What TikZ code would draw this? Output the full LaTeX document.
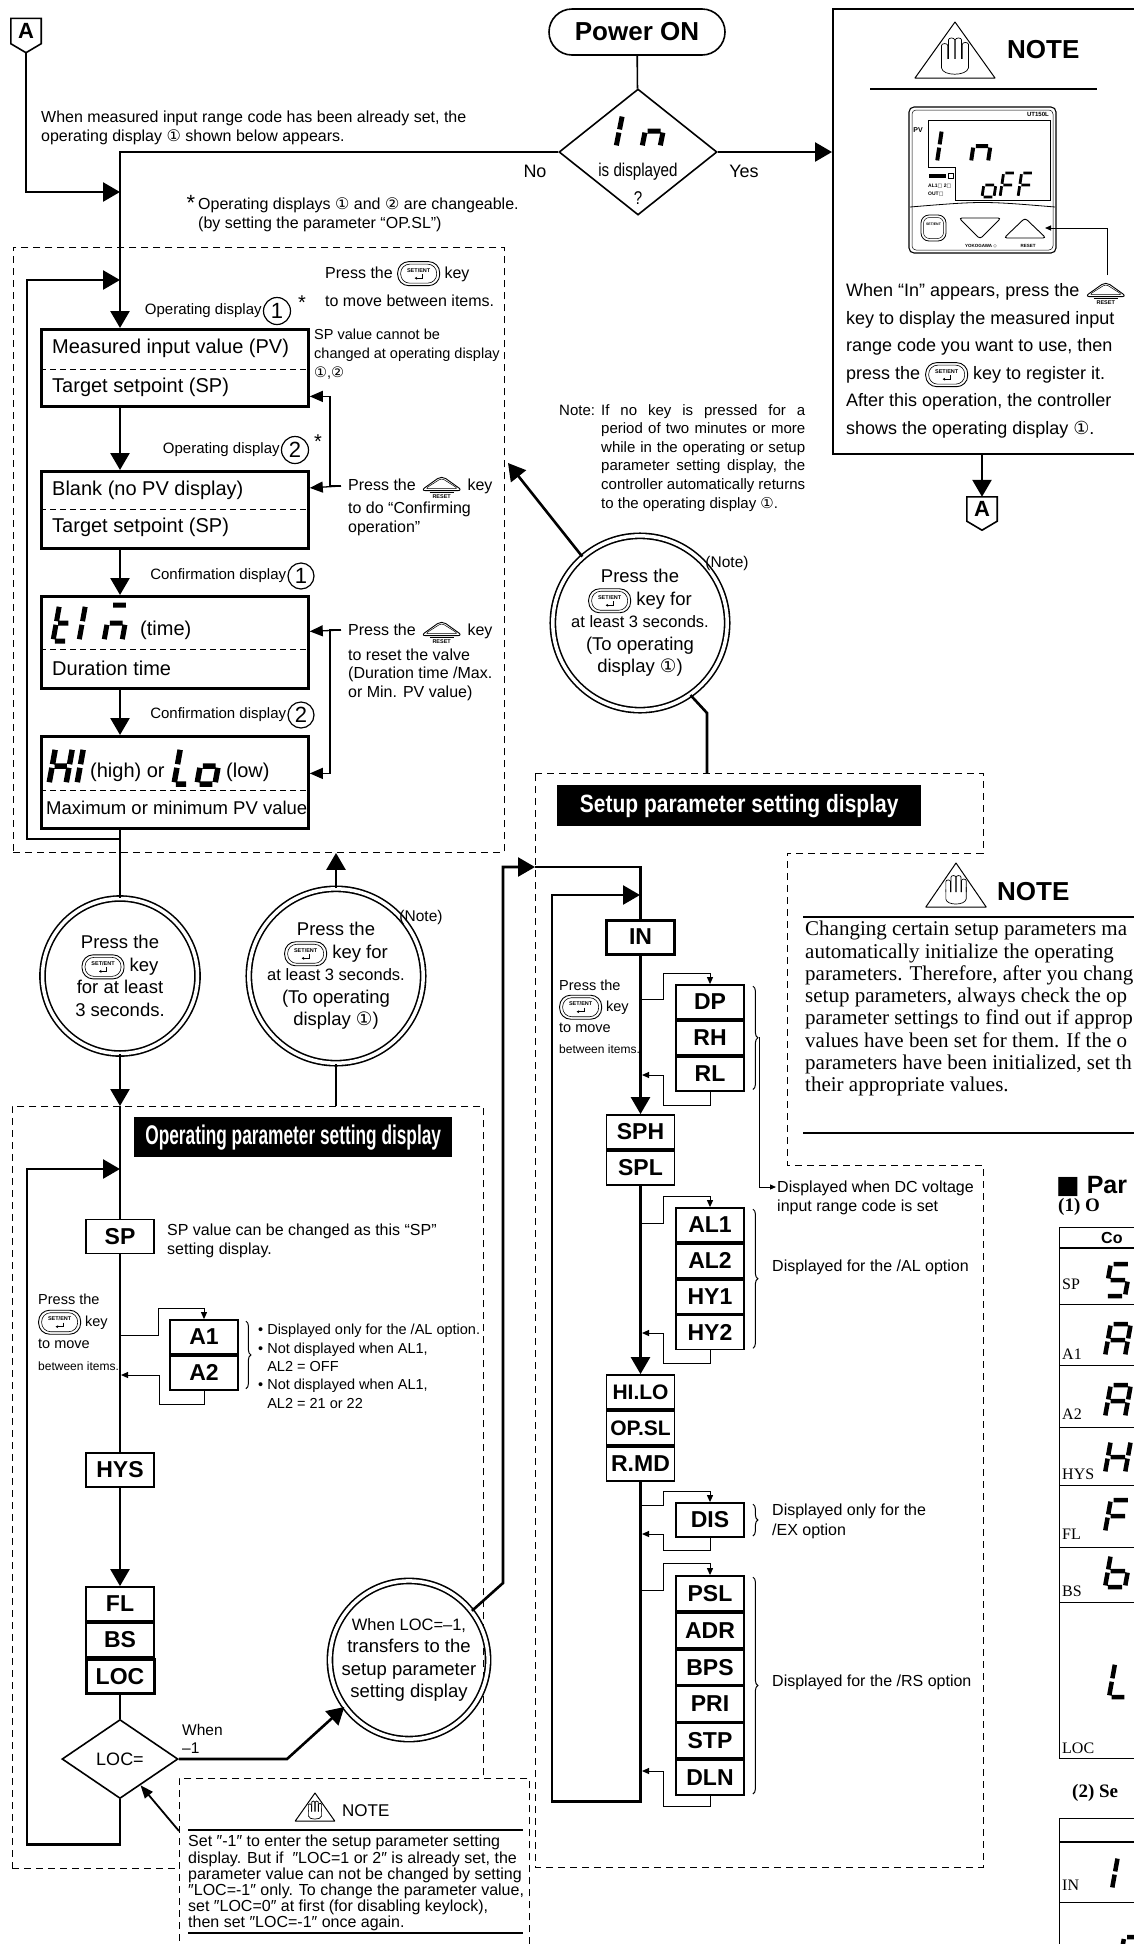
\documentclass[tikz,border=0pt]{standalone}
\usepackage{fontspec}
\setmainfont{Liberation Sans}
\newfontfamily\narrowfont[FakeStretch=0.82]{Liberation Sans}
\newfontfamily\condfont[FakeStretch=0.64]{Liberation Sans}
\newfontfamily\setupfont[FakeStretch=0.84]{Liberation Sans}
\newfontfamily\serifont{Liberation Serif}
\newfontfamily\dejavu{DejaVu Sans}
\usetikzlibrary{shapes, arrows.meta, decorations.pathreplacing, positioning, calc}
\tikzstyle{flow} = [line width=2.6pt]
\tikzstyle{flowarrow} = [line width=2.6pt, -{Triangle[length=17pt, width=19pt]}]
\tikzstyle{smallarrow} = [line width=1pt, -{Triangle[length=7pt, width=6pt]}]
\tikzstyle{keyarrow} = [line width=1.3pt, -{Triangle[length=13pt, width=11pt]}]
\tikzstyle{tinyarrow} = [line width=.9pt, -{Triangle[length=6pt, width=5pt]}]
\tikzstyle{noteptr} = [line width=1.8pt, -{Triangle[length=13pt, width=10pt]}]
\tikzstyle{zone} = [draw, line width=.9pt, dash pattern=on 7pt off 5pt, inner sep=0pt]
\tikzstyle{divider} = [line width=.9pt, dash pattern=on 6pt off 4pt]
\tikzstyle{dispbox} = [rectangle, draw, line width=2.8pt, minimum width=267pt, minimum height=77pt, inner sep=0pt, anchor=north west]
\tikzstyle{parbox} = [rectangle, draw, line width=1.8pt, minimum width=68pt, minimum height=34pt, inner sep=0pt, font=\bfseries\fontsize{23}{23}\selectfont]
\tikzstyle{keycircle} = [circle, draw, double, double distance=3.5pt, line width=1.6pt, minimum size=155pt, inner sep=0pt, align=center, font=\fontsize{18.5}{22.5}\selectfont]
\tikzstyle{numring} = [circle, draw, line width=1.2pt, minimum size=27pt, inner sep=0pt, font=\fontsize{22}{22}\selectfont]
\tikzstyle{decision} = [diamond, draw, line width=1.6pt, inner sep=0pt]
\tikzstyle{startstop} = [rectangle, rounded corners=23pt, draw, line width=1.6pt, minimum width=176pt, minimum height=46pt, font=\bfseries\fontsize{26}{26}\selectfont]
\tikzstyle{banner} = [rectangle, fill=black, text=white, inner sep=0pt, anchor=north west]
\tikzstyle{anno} = [inner sep=0pt, align=left, anchor=north west, font=\fontsize{16}{19}\selectfont]
\tikzstyle{tag} = [inner sep=0pt, font=\fontsize{15}{15}\selectfont]
\tikzstyle{rowtext} = [inner sep=0pt, anchor=west, font=\fontsize{20}{20}\selectfont]
\tikzstyle{conn} = [minimum width=30pt, minimum height=25pt, inner sep=0pt, font=\bfseries\fontsize{22}{22}\selectfont]
\tikzstyle{brace} = [decorate, decoration={brace, amplitude=5pt}, line width=1pt]
\tikzstyle{tline} = [line width=1pt]
\tikzstyle{seg} = [line width=4.5pt, line cap=butt]
\tikzstyle{sa} = [insert path={(.14,1) -- (.86,1)}]
\tikzstyle{sb} = [insert path={(1,.95) -- (1,.55)}]
\tikzstyle{sc} = [insert path={(1,.45) -- (1,.05)}]
\tikzstyle{sd} = [insert path={(.14,0) -- (.86,0)}]
\tikzstyle{se} = [insert path={(0,.05) -- (0,.45)}]
\tikzstyle{sf} = [insert path={(0,.55) -- (0,.95)}]
\tikzstyle{sg} = [insert path={(.14,.5) -- (.86,.5)}]
\tikzset{pics/handnote/.style={code={
\draw[line width=1pt, line join=round] (0,0) -- (0.58,1) -- (-0.58,1) -- cycle;
\foreach \fx/\ft in {-0.15/0.42,-0.05/0.32,0.05/0.32,0.15/0.4} {\draw[line width=.7pt] (\fx-0.045,0.66) -- (\fx-0.045,\ft) arc[start angle=180, end angle=360, x radius=0.045, y radius=0.035] -- (\fx+0.045,0.66);}
\draw[line width=.7pt] (-0.195,0.6) -- (-0.195,0.82) .. controls (-0.18,0.97) and (0.17,0.97) .. (0.195,0.82) -- (0.195,0.55);
}}}
\newcommand{\entkey}{\tikz[baseline=-4.5pt, x=1pt, y=1pt]{\draw[line width=.9pt, rounded corners=11pt] (-21,-12) rectangle (21,12); \draw[line width=.6pt, rounded corners=9pt] (-18,-9.5) rectangle (18,9.5); \node (entlab) [rectangle, inner sep=0pt, minimum size=0pt, anchor=center, font=\bfseries\fontsize{5.5}{5.5}\selectfont] at (0,3.5) {SET/ENT}; \draw[line width=.7pt, -{Stealth[length=2.5pt, width=3pt]}] (3.5,-0.5) -- (3.5,-4.5) -- (-4,-4.5);}}
\newcommand{\rstkey}{\tikz[baseline=0pt, x=1pt, y=1pt]{\draw[line width=.9pt, rounded corners=5pt] (-21,0) -- (0,15) -- (21,0) -- cycle; \draw[line width=.5pt, rounded corners=3pt] (-16.5,2) -- (0,12.5) -- (16.5,2) -- cycle; \draw[line width=.5pt] (-12,-2) -- (12,-2); \node (rstlab) [rectangle, inner sep=0pt, minimum size=0pt, anchor=center, font=\bfseries\fontsize{5.5}{5.5}\selectfont] at (0,-5.5) {RESET};}}
\begin{document}
\begin{tikzpicture}[x=1pt, y=-1pt]
\useasboundingbox (0,0) rectangle (1134,1944);
\clip (0,0) rectangle (1134,1944);
\coordinate (mx) at (120,0);
\node (atop) [conn] at (26,31) {A};
\draw[line width=1.6pt] (atop.north west) -- (atop.north east) -- (atop.south east) -- ([yshift=-9pt]atop.south) -- (atop.south west) -- cycle;
\node (power) [startstop] at (637,32) {Power ON};
\node (decide) [decision, minimum width=158pt, minimum height=126pt] at (638,152) {};
\draw[seg, line width=5pt, shift={(616,147)}, xslant=.2, xscale=10, yscale=-32, se, sf];
\draw[seg, line width=5pt, shift={(642,147)}, xslant=.2, xscale=18, yscale=-32, sc, se, sg];
\node (isdisp) [tag, font=\narrowfont\fontsize{18.5}{18.5}\selectfont] at (638,172) {is displayed};
\node (qmark) [tag, font=\narrowfont\fontsize{18.5}{18.5}\selectfont] at (638,198) {?};
\node (nolab) [tag, font=\fontsize{18}{18}\selectfont] at (535,171) {No};
\node (yeslab) [tag, font=\fontsize{18}{18}\selectfont] at (744,171) {Yes};
\node (notebox) [draw, line width=1.6pt, anchor=north west, minimum width=330pt, minimum height=445pt, inner sep=0pt] at (832,8) {};
\pic[shift={(955,22)}, xscale=69, yscale=56] {handnote};
\node (notehead) [tag, anchor=west, font=\bfseries\fontsize{26}{26}\selectfont] at (1007,50) {NOTE};
\draw[line width=2.6pt] (870,89) -- (1097,89);
\draw[line width=1.1pt, rounded corners=5pt] (909,107) rectangle (1056,253);
\draw[line width=.5pt, rounded corners=4pt] (912,110) rectangle (1053,250);
\draw[line width=.9pt] (928,120) -- (1050,120) -- (1050,200) -- (955,200) -- (955,167) -- (928,167) -- cycle;
\node (pvtag) [tag, font=\bfseries\fontsize{7}{7}\selectfont] at (918,130) {PV};
\node (uttag) [tag, anchor=east, font=\bfseries\fontsize{6}{6}\selectfont] at (1049,114) {UT150L};
\draw[seg, line width=4pt, shift={(937,162)}, xslant=.15, xscale=8, yscale=-32, se, sf];
\draw[seg, line width=4pt, shift={(971,162)}, xslant=.15, xscale=17, yscale=-32, sc, se, sg];
\draw[seg, line width=2.8pt, shift={(982,197)}, xslant=.15, xscale=12, yscale=-24, sc, sd, se, sg];
\draw[seg, line width=2.8pt, shift={(1000,197)}, xslant=.15, xscale=12, yscale=-24, sa, se, sf, sg];
\draw[seg, line width=2.8pt, shift={(1018,197)}, xslant=.15, xscale=12, yscale=-24, sa, se, sf, sg];
\fill (929,174) rectangle (946,178);
\draw[line width=.5pt] (948,173) rectangle (953,178);
\node (ind2) [tag, anchor=west, font=\bfseries\fontsize{5}{5}\selectfont] at (928,186) {AL1{\dejavu □} 2{\dejavu □}};
\node (ind3) [tag, anchor=west, font=\bfseries\fontsize{5}{5}\selectfont] at (928,194) {OUT{\dejavu □}};
\draw[line width=.8pt] (910,207) .. controls (983,201) .. (1055,207);
\draw[line width=.8pt, rounded corners=8pt] (921,215) rectangle (946,241);
\draw[line width=.5pt, rounded corners=6pt] (923.5,217.5) rectangle (943.5,238.5);
\node (entsmall) [tag, font=\bfseries\fontsize{3.5}{3.5}\selectfont] at (933.5,224) {SET/ENT};
\draw[line width=.9pt, rounded corners=3pt] (959,218) -- (1001,218) -- (980,239) -- cycle;
\draw[line width=.9pt, rounded corners=3pt] (1004,238) -- (1046,238) -- (1025,218) -- cycle;
\node (yoko) [tag, font=\bfseries\fontsize{4.5}{4.5}\selectfont] at (981,246) {YOKOGAWA {\dejavu ◇}};
\node (resetlab) [tag, font=\bfseries\fontsize{4.5}{4.5}\selectfont] at (1028,246) {RESET};
\coordinate (upkey) at (1045,228);
\coordinate (keyptr) at (1107,275);
\draw[tinyarrow] (keyptr) |- (upkey);
\node (notetxt) [anno, font=\fontsize{18}{27.5}\selectfont] at (846,281) {When “In” appears, press the \rstkey\\key to display the measured input\\range code you want to use, then\\press the \entkey\ key to register it.\\After this operation, the controller\\shows the operating display {\dejavu ①}.};
\node (abot) [conn, minimum height=24pt] at (982,509) {A};
\draw[line width=1.6pt] (abot.north west) -- (abot.north east) -- (abot.south east) -- ([yshift=-9pt]abot.south) -- (abot.south west) -- cycle;
\draw[flowarrow] (notebox.south -| abot) -- (abot.north);
\node (intro) [anno] at (41,111) {When measured input range code has been already set, the\\operating display {\dejavu ①} shown below appears.};
\node (chgstar) [tag, font=\fontsize{22}{22}\selectfont] at (191,203) {*};
\node (chgnote) [anno] at (198,197) {Operating displays {\dejavu ①} and {\dejavu ②} are changeable.\\(by setting the parameter “OP.SL”)};
\node (dispzone) [zone, anchor=north west, minimum width=491pt, minimum height=605pt] at (13,247) {};
\node (keyhint) [anno] at (325,261) {Press the \entkey\ key\\[8pt]to move between items.};
\node (spnote1) [anno, font=\fontsize{14.5}{19}\selectfont] at (314,329) {SP value cannot be\\changed at operating display\\{\dejavu ①},{\dejavu ②}};
\node (opd1c) [numring] at (277,311) {1};
\node (opd1) [tag, left=1pt of opd1c] {Operating display};
\node (opd1star) [tag, font=\fontsize{20}{20}\selectfont] at (302,303) {*};
\node (pvbox) [dispbox] at (40,328) {};
\draw[divider] ([yshift=-1.5pt]pvbox.west) -- ([yshift=-1.5pt]pvbox.east);
\node (pvtxt) [rowtext] at (52,348) {Measured input value (PV)};
\node (sptxt1) [rowtext] at (52,387) {Target setpoint (SP)};
\node (opd2c) [numring] at (295,450) {2};
\node (opd2) [tag, left=1pt of opd2c] {Operating display};
\node (opd2star) [tag, font=\fontsize{20}{20}\selectfont] at (318,442) {*};
\node (blankbox) [dispbox] at (40,470) {};
\draw[divider] (blankbox.west) -- (blankbox.east);
\node (blanktxt) [rowtext] at (52,490) {Blank (no PV display)};
\node (sptxt2) [rowtext] at (52,527) {Target setpoint (SP)};
\coordinate (rkey1) at (341,486);
\node (conftxt) [anno] at (348,475) {Press the \rstkey\ key\\[2.5pt]to do “Confirming\\operation”};
\node (conf1c) [numring, minimum size=26pt] at (301,576) {1};
\node (conf1) [tag, left=1pt of conf1c] {Confirmation display};
\node (timebox) [dispbox, minimum height=92pt] at (40,595) {};
\draw[divider] ([yshift=-7pt]timebox.west) -- ([yshift=-7pt]timebox.east);
\draw[seg, line width=5pt, shift={(53,641)}, xslant=.18, xscale=14, yscale=-36, sd, se, sf, sg];
\draw[seg, line width=5pt, shift={(79,641)}, xslant=.18, xscale=8, yscale=-36, se, sf];
\draw[seg, line width=5pt, shift={(104,641)}, xslant=.18, xscale=18, yscale=-36, sa, sc, se, sg];
\node (timetxt) [rowtext] at (140,630) {(time)};
\node (durtxt) [rowtext] at (52,668) {Duration time};
\coordinate (rkey2) at (341,630);
\node (resettxt) [anno, font=\fontsize{16}{18.5}\selectfont] at (348,620) {Press the \rstkey\ key\\[4.5pt]to reset the valve\\(Duration time /Max.\\or Min. PV value)};
\node (conf2c) [numring, minimum size=26pt] at (301,715) {2};
\node (conf2) [tag, left=1pt of conf2c] {Confirmation display};
\node (hilobox) [dispbox, minimum height=92pt] at (40,735) {};
\draw[divider] ([yshift=-8pt]hilobox.west) -- ([yshift=-8pt]hilobox.east);
\draw[seg, line width=5.5pt, shift={(49,784)}, xslant=.18, xscale=17, yscale=-36, sb, sc, se, sf, sg];
\draw[seg, line width=5.5pt, shift={(77,784)}, xslant=.18, xscale=6, yscale=-36, se, sf];
\node (hightxt) [rowtext] at (90,772) {(high) or};
\draw[seg, line width=5.5pt, shift={(174,784)}, xslant=.18, xscale=14, yscale=-36, sd, se, sf];
\draw[seg, line width=5.5pt, shift={(197,784)}, xslant=.18, xscale=18, yscale=-36, sc, sd, se, sg];
\node (lowtxt) [rowtext] at (226,772) {(low)};
\node (maxtxt) [rowtext, font=\fontsize{18.5}{18.5}\selectfont] at (46,808) {Maximum or minimum PV value};
\draw[line width=1.6pt] (power) -- (decide);
\draw[flowarrow] (decide.west) -| (pvbox.north -| mx);
\draw[flowarrow] (decide.east) -- (decide.east -| notebox.west);
\coordinate (joina) at (120,192);
\draw[flowarrow] ([yshift=-9pt]atop.south) |- (joina);
\draw[flowarrow] (pvbox.south -| mx) -- (blankbox.north -| mx);
\draw[flowarrow] (blankbox.south -| mx) -- (timebox.north -| mx);
\draw[flowarrow] (timebox.south -| mx) -- (hilobox.north -| mx);
\draw[keyarrow] (rkey1) -- ([yshift=22pt]blankbox.east);
\draw[keyarrow] (rkey1) -- ++(-11,0) |- ([yshift=-28.5pt]pvbox.east);
\draw[keyarrow] (rkey2) -- ([yshift=11pt]timebox.east);
\draw[keyarrow] (rkey2) -- ++(-11,0) |- ([yshift=9pt]hilobox.east);
\coordinate (dispin) at (120,280);
\coordinate (dispout) at (120,839);
\draw[flowarrow] (dispout) -- ++(-93,0) |- (dispin);
\node (autonote) [anno, font=\fontsize{15}{18.6}\selectfont] at (559,404) {\makebox[42pt][l]{Note:}\makebox[204pt][s]{If no key is pressed for a}\\\hspace*{42pt}\makebox[204pt][s]{period of two minutes or more}\\\hspace*{42pt}\makebox[204pt][s]{while in the operating or setup}\\\hspace*{42pt}\makebox[204pt][s]{parameter setting display, the}\\\hspace*{42pt}\makebox[204pt][s]{controller automatically returns}\\\hspace*{42pt}to the operating display {\dejavu ①}.};
\node (press) [keycircle] at (120,976) {Press the\\\entkey\ key\\for at least\\3 seconds.};
\node (back1) [keycircle] at (336,976) {Press the\\\entkey\ key for\\{\fontsize{16.5}{22.5}\selectfont at least 3 seconds.}\\(To operating\\display {\dejavu ①})};
\node (back1note) [tag, font=\fontsize{15.5}{15.5}\selectfont] at (421,917) {(Note)};
\node (back2) [keycircle] at (640,623) {Press the\\\entkey\ key for\\{\fontsize{16.5}{22.5}\selectfont at least 3 seconds.}\\(To operating\\display {\dejavu ①})};
\node (back2note) [tag, font=\fontsize{15.5}{15.5}\selectfont] at (727,563) {(Note)};
\draw[flow] (hilobox.south -| mx) -- (press.north);
\draw[flowarrow] (back1.north) -- (back1 |- dispzone.south);
\coordinate (backtip) at (508,463);
\draw[flowarrow] (back2.131) -- (backtip);
\node (oppzone) [zone, anchor=north west, minimum width=471pt, minimum height=762pt] at (12,1106) {};
\draw[flowarrow] (press.south) -- (press |- oppzone.north);
\draw[flow] (back1 |- oppzone.north) -- (back1.south);
\node (oppbanner) [banner, minimum width=318pt, minimum height=40pt, font=\condfont\bfseries\fontsize{27}{27}\selectfont] at (134,1117) {Operating parameter setting display};
\node (spbox) [parbox] at (120,1236.5) {SP};
\node (spdesc) [anno] at (167,1224) {SP value can be changed as this “SP”\\setting display.};
\node (oppkey) [anno, font=\fontsize{14.5}{22}\selectfont] at (38,1294) {Press the\\\entkey\ key\\to move\\{\fontsize{12}{12}\selectfont between items.}};
\node (a1box) [parbox] at (204,1337) {A1};
\node (a2box) [parbox, below=0pt of a1box] {A2};
\node (albul) [anno, font=\fontsize{14.5}{18.4}\selectfont] at (258,1324) {• Displayed only for the /AL option.\\• Not displayed when AL1,\\\phantom{• }AL2 = OFF\\• Not displayed when AL1,\\\phantom{• }AL2 = 21 or 22};
\node (hysbox) [parbox] at (120,1470) {HYS};
\node (flbox) [parbox] at (120,1604) {FL};
\node (bsbox) [parbox, below=0pt of flbox] {BS};
\node (locbox) [parbox, line width=3pt, below=0pt of bsbox] {LOC};
\node (locdec) [decision, minimum width=116pt, minimum height=79pt, font=\fontsize{18}{18}\selectfont] at (120,1759) {LOC=};
\node (whenm1) [anno, font=\fontsize{15.5}{18}\selectfont] at (182,1724) {When\\–1};
\node (transfer) [keycircle] at (409,1660) {{\fontsize{16.5}{22.5}\selectfont When LOC=–1,}\\transfers to the\\setup parameter\\setting display};
\coordinate (albr) at (120,1335);
\coordinate (alret) at (121,1375);
\coordinate (oppin) at (120,1169);
\coordinate (locbend) at (287,1759);
\draw[flow] (press |- oppzone.north) -- (spbox.north);
\draw[flow] (spbox) -- (hysbox);
\draw[smallarrow] (albr) -- ++(38,0) -- ++(0,-27) -| (a1box.north);
\draw[smallarrow] (a2box.south) -- ++(0,14) -| ([xshift=38pt]alret) -- (alret);
\draw[brace] ([xshift=7pt,yshift=-2pt]a1box.north east) -- ([xshift=7pt,yshift=2pt]a2box.south east);
\draw[flowarrow] (hysbox) -- (flbox);
\draw[flow] (locbox) -- (locdec);
\draw[flowarrow] (locdec.south) -- ++(0,45) -| ([xshift=-93pt]oppin) -- (oppin);
\draw[flowarrow] (locdec.east) -- (locbend) -- (transfer.216);
\node (locnote) [zone, fill=white, anchor=north west, minimum width=350pt, minimum height=200pt] at (179,1778) {};
\pic[shift={(315,1793)}, xscale=34, yscale=28] {handnote};
\node (locnotehead) [tag, anchor=west, font=\fontsize{17}{17}\selectfont] at (342,1811) {NOTE};
\draw[line width=2pt] (188,1830) -- (523,1830);
\node (locnotetxt) [anno, font=\fontsize{16}{16.2}\selectfont] at (188,1835) {Set ″-1″ to enter the setup parameter setting\\display. But if \ ″LOC=1 or 2″ is already set, the\\parameter value can not be changed by setting\\″LOC=-1″ only. To change the parameter value,\\set ″LOC=0″ at first (for disabling keylock),\\then set ″LOC=-1″ once again.};
\draw[line width=2pt] (188,1933) -- (523,1933);
\draw[noteptr] ([yshift=-53pt]locnote.north west) -- (locdec.-52);
\draw[zone] (535,773) -- (983,773) -- (983,853) -- (787,853) -- (787,1165) -- (983,1165) -- (983,1867) -- (535,1867) -- cycle;
\node (setbanner) [banner, minimum width=364pt, minimum height=41pt, font=\setupfont\bfseries\fontsize{25}{25}\selectfont] at (557,785) {Setup parameter setting display};
\coordinate (sbend) at (707,713);
\coordinate (stop) at (707,773);
\draw[flow] (back2.-55) -- (sbend) -- (stop);
\coordinate (tbend) at (503,1583);
\coordinate (szin) at (535,867);
\coordinate (sin) at (640,895);
\draw[flowarrow] (transfer.38) -- (tbend) |- (szin);
\node (inbox) [parbox, line width=3pt] at (640.5,937) {IN};
\node (setkeyhint) [anno, font=\fontsize{14.5}{21}\selectfont] at (559,980) {Press the\\\entkey\ key\\to move\\{\fontsize{12}{12}\selectfont between items.}};
\node (dpbox) [parbox] at (710,1002) {DP};
\node (rhbox) [parbox, below=0pt of dpbox] {RH};
\node (rlbox) [parbox, below=0pt of rhbox] {RL};
\node (sphbox) [parbox] at (640.5,1132) {SPH};
\node (splbox) [parbox, below=0pt of sphbox] {SPL};
\node (al1box) [parbox] at (710,1225) {AL1};
\node (al2box) [parbox, below=0pt of al1box] {AL2};
\node (hy1box) [parbox, below=0pt of al2box] {HY1};
\node (hy2box) [parbox, below=0pt of hy1box] {HY2};
\node (hilo2box) [parbox, font=\bfseries\fontsize{21}{21}\selectfont] at (640.5,1392) {HI.LO};
\node (opslbox) [parbox, font=\bfseries\fontsize{21}{21}\selectfont, below=0pt of hilo2box] {OP.SL};
\node (rmdbox) [parbox, below=0pt of opslbox] {R.MD};
\node (disbox) [parbox] at (710,1520) {DIS};
\node (pslbox) [parbox, minimum height=35pt] at (710,1593.5) {PSL};
\node (adrbox) [parbox, minimum height=35pt, below=0pt of pslbox] {ADR};
\node (bpsbox) [parbox, minimum height=35pt, below=0pt of adrbox] {BPS};
\node (pribox) [parbox, minimum height=35pt, below=0pt of bpsbox] {PRI};
\node (stpbox) [parbox, minimum height=35pt, below=0pt of pribox] {STP};
\node (dlnbox) [parbox, minimum height=35pt, below=0pt of stpbox] {DLN};
\node (dctext) [anno] at (777,1181) {Displayed when DC voltage\\input range code is set};
\node (altext) [tag, anchor=west, font=\fontsize{16}{16}\selectfont] at (772,1267) {Displayed for the /AL option};
\node (extext) [anno, font=\fontsize{16}{20}\selectfont] at (772,1504) {Displayed only for the\\/EX option};
\node (rstext) [tag, anchor=west, font=\fontsize{16}{16}\selectfont] at (772,1682) {Displayed for the /RS option};
\coordinate (dpbr) at (640,999);
\coordinate (dpret) at (642,1075);
\coordinate (albr2) at (640,1223);
\coordinate (alret2) at (642,1333);
\coordinate (disbr) at (640,1505);
\coordinate (disret) at (642,1534);
\coordinate (rsbr) at (640,1590);
\coordinate (rsret) at (642,1771);
\coordinate (dcbrace) at (759,1037);
\coordinate (dctip) at (776,1187);
\draw[flow] (szin) -| (inbox.north);
\draw[flowarrow] (inbox) -- (sphbox);
\draw[flowarrow] (splbox) -- (hilo2box);
\draw[flowarrow] (rmdbox.south) -- ++(0,320) -| ([xshift=-88pt]sin) -- (sin);
\draw[smallarrow] (dpbr) -- ++(23,0) -- ++(0,-26) -| (dpbox.north);
\draw[smallarrow] (rlbox.south) -- ++(0,14) -| ([xshift=21pt]dpret) -- (dpret);
\draw[smallarrow] (albr2) -- ++(23,0) -- ++(0,-27) -| (al1box.north);
\draw[smallarrow] (hy2box.south) -- ++(0,13) -| ([xshift=21pt]alret2) -- (alret2);
\draw[smallarrow] (disbr) -- ++(23,0) -- ++(0,-14) -| (disbox.north);
\draw[smallarrow] (disbox.south) -- ++(0,13) -| ([xshift=21pt]disret) -- (disret);
\draw[smallarrow] (rsbr) -- ++(23,0) -- ++(0,-27) -| (pslbox.north);
\draw[smallarrow] (dlnbox.south) -- ++(0,11) -| ([xshift=21pt]rsret) -- (rsret);
\draw[brace] ([xshift=8pt,yshift=-2pt]dpbox.north east) -- ([xshift=8pt,yshift=2pt]rlbox.south east);
\draw[brace] ([xshift=8pt,yshift=-2pt]al1box.north east) -- ([xshift=8pt,yshift=2pt]hy2box.south east);
\draw[brace] ([xshift=8pt,yshift=-2pt]disbox.north east) -- ([xshift=8pt,yshift=2pt]disbox.south east);
\draw[brace] ([xshift=8pt,yshift=-2pt]pslbox.north east) -- ([xshift=8pt,yshift=2pt]dlnbox.south east);
\draw[tinyarrow] (dcbrace) |- (dctip);
\pic[shift={(956,863)}, xscale=52, yscale=44] {handnote};
\node (setnotehead) [tag, anchor=west, font=\bfseries\fontsize{26}{26}\selectfont] at (997,892) {NOTE};
\draw[line width=1.6pt] (803,917) -- (1134,917);
\node (setnotetxt) [anno, font=\serifont\fontsize{21}{22.3}\selectfont] at (805,921) {Changing certain setup parameters ma\\automatically initialize the operating\\parameters. Therefore, after you chang\\setup parameters, always check the op\\parameter settings to find out if approp\\values have been set for them. If the o\\parameters have been initialized, set th\\their appropriate values.};
\draw[line width=1.6pt] (803,1133) -- (1134,1133);
\node (parhead) [tag, anchor=west, font=\bfseries\fontsize{25}{25}\selectfont] at (1056,1186) {{\dejavu ■} Par};
\node (ophead) [tag, anchor=west, font=\serifont\bfseries\fontsize{19}{19}\selectfont] at (1058,1207) {(1) O};
\draw[tline] (1140,1227) -- (1059,1227) -- (1059,1758) -- (1140,1758);
\draw[line width=1.8pt] (1059,1248) -- (1140,1248);
\foreach \ty in {1304,1365,1427,1485,1547,1602} {\draw[tline] (1059,\ty) -- (1140,\ty);}
\node (cohead) [tag, anchor=west, font=\bfseries\fontsize{16}{16}\selectfont] at (1101,1238) {Co};
\foreach \lab/\ly in {SP/1284,A1/1354,A2/1414,HYS/1474,FL/1534,BS/1591,LOC/1748} {\node (t\lab) [tag, anchor=west, font=\serifont\fontsize{16}{16}\selectfont] at (1062,\ly) {\lab};}
\draw[seg, shift={(1105,1296)}, xslant=.18, xscale=20, yscale=-32, sa, sf, sg, sc, sd];
\draw[seg, shift={(1105,1356)}, xslant=.18, xscale=20, yscale=-32, sa, sb, sc, se, sf, sg];
\draw[seg, shift={(1105,1417)}, xslant=.18, xscale=20, yscale=-32, sa, sb, sc, se, sf, sg];
\draw[seg, shift={(1105,1473)}, xslant=.18, xscale=20, yscale=-32, sb, sc, se, sf, sg];
\draw[seg, shift={(1105,1532)}, xslant=.18, xscale=20, yscale=-32, sa, se, sf, sg];
\draw[seg, shift={(1105,1587)}, xslant=.18, xscale=20, yscale=-32, sc, sd, se, sf, sg];
\draw[seg, shift={(1109,1697)}, xslant=.18, xscale=18, yscale=-34, sd, se, sf];
\node (sethead) [tag, anchor=west, font=\serifont\bfseries\fontsize{19}{19}\selectfont] at (1072,1793) {(2) Se};
\draw[tline] (1140,1818) -- (1059,1818) -- (1059,1950);
\draw[line width=1.8pt] (1059,1842) -- (1140,1842);
\draw[tline] (1059,1902) -- (1140,1902);
\node (tIN) [tag, anchor=west, font=\serifont\fontsize{16}{16}\selectfont] at (1062,1885) {IN};
\draw[seg, shift={(1112,1889)}, xslant=.18, xscale=8, yscale=-32, se, sf];
\draw[seg, shift={(1117,1977)}, xslant=.18, xscale=20, yscale=-40, sa, sf];
\end{tikzpicture}
\end{document}
